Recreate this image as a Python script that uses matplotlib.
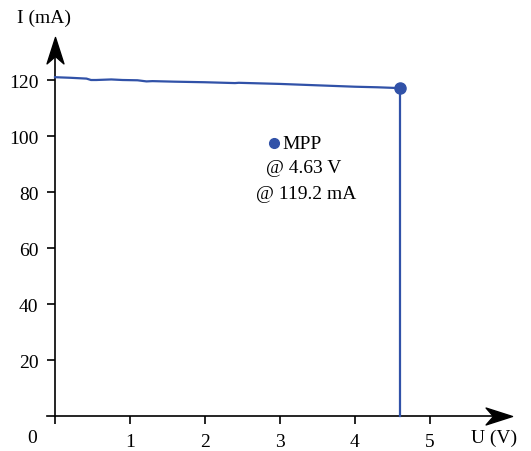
import numpy as np
import matplotlib
matplotlib.use("Agg")
import matplotlib.pyplot as plt
from matplotlib.path import Path

plt.rcParams['font.family'] = ['Liberation Serif', 'DejaVu Serif']

# I-U curve data
voltage = [0.0, 0.2, 0.42, 0.48, 0.55, 0.75, 0.9, 1.1, 1.22, 1.3, 1.6, 2.0, 2.4, 2.45, 3.0, 3.5, 4.0, 4.3, 4.6, 4.6]
current = [121.0, 120.8, 120.5, 120.0, 120.0, 120.2, 120.0, 119.9, 119.5, 119.6, 119.4, 119.2, 118.9, 119.0, 118.6, 118.1, 117.6, 117.4, 117.1, 0.0]
mpp_u, mpp_i = 4.6, 117.1

x_ticks = [1, 2, 3, 4, 5]
y_ticks = [20, 40, 60, 80, 100, 120]
mpp_lines = ['MPP', '@ 4.63 V', '@ 119.2 mA']

blue = '#3152a8'
fs = 14

fig = plt.figure(figsize=(5.31, 4.52), dpi=100)
ax = fig.add_axes([0, 0, 1, 1])
ax.set_xlim(-0.7333, 6.3467)
ax.set_ylim(-12.5, 148.93)

for s in ['top', 'right']:
    ax.spines[s].set_visible(False)
ax.spines['left'].set_position(('data', 0))
ax.spines['bottom'].set_position(('data', 0))
ax.spines['bottom'].set_bounds(-0.107, 6.0)
ax.spines['left'].set_bounds(0, 133)
ax.spines['left'].set_linewidth(1.2)
ax.spines['bottom'].set_linewidth(1.2)

# stealth-like arrow heads (tip at marker origin)
head_x = Path([(0, 0), (-1, 0.32), (-0.72, 0), (-1, -0.32), (0, 0)],
              [Path.MOVETO, Path.LINETO, Path.LINETO, Path.LINETO, Path.CLOSEPOLY])
head_y = Path([(0, 0), (0.32, -1), (0, -0.72), (-0.32, -1), (0, 0)],
              [Path.MOVETO, Path.LINETO, Path.LINETO, Path.LINETO, Path.CLOSEPOLY])
ax.plot(6.09, 0, marker=head_x, ms=38, color='black', clip_on=False)
ax.plot(0, 135.5, marker=head_y, ms=38, color='black', clip_on=False)

ax.set_xticks([0] + x_ticks)
ax.set_xticklabels([''] + [str(v) for v in x_ticks])
ax.set_yticks(y_ticks)
ax.set_yticklabels([str(v) for v in y_ticks])
ax.tick_params(axis='both', direction='out', length=6, width=1.2, labelsize=fs, pad=6)

ax.text(-0.307, -7.5, '0', ha='center', va='center', fontsize=fs)
ax.text(5.85, -7.5, 'U (V)', ha='center', va='center', fontsize=fs)
ax.text(-0.147, 142.5, 'I (mA)', ha='center', va='center', fontsize=fs)

# curve
ax.plot(voltage, current, color=blue, lw=1.6, zorder=3)
ax.plot(mpp_u, mpp_i, 'o', color=blue, ms=8, zorder=4)

# MPP label
ax.plot(2.92, 97.5, 'o', color=blue, ms=7)
ax.text(3.03, 97.5, mpp_lines[0], ha='left', va='center', fontsize=fs)
ax.text(3.32, 88.6, mpp_lines[1], ha='center', va='center', fontsize=fs)
ax.text(3.35, 79.6, mpp_lines[2], ha='center', va='center', fontsize=fs)

fig.savefig('out.png', dpi=100)
